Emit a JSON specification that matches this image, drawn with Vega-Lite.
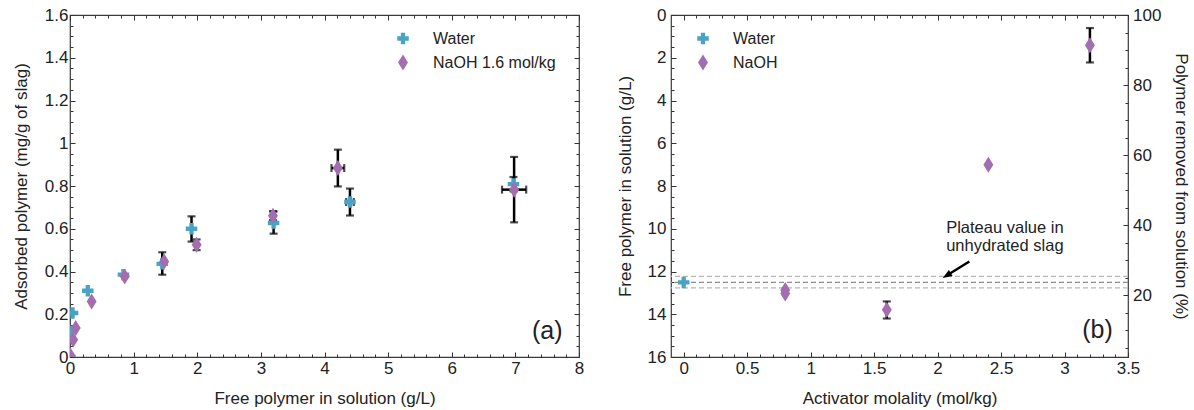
{
  "$schema": "https://vega.github.io/schema/vega-lite/v6.json",
  "padding": {"left": 12, "top": 5, "right": 4, "bottom": 4},
  "background": "white",
  "datasets": {
    "adsorption": [
      {"medium": "Water", "free_gL": 0.0, "adsorbed_mgg": 0.0, "ads_lo": null, "ads_hi": null, "free_lo": null, "free_hi": null},
      {"medium": "Water", "free_gL": 0.01, "adsorbed_mgg": 0.12, "ads_lo": null, "ads_hi": null, "free_lo": null, "free_hi": null},
      {"medium": "Water", "free_gL": 0.04, "adsorbed_mgg": 0.206, "ads_lo": null, "ads_hi": null, "free_lo": null, "free_hi": null},
      {"medium": "Water", "free_gL": 0.28, "adsorbed_mgg": 0.31, "ads_lo": null, "ads_hi": null, "free_lo": null, "free_hi": null},
      {"medium": "Water", "free_gL": 0.84, "adsorbed_mgg": 0.385, "ads_lo": null, "ads_hi": null, "free_lo": null, "free_hi": null},
      {"medium": "Water", "free_gL": 1.45, "adsorbed_mgg": 0.436, "ads_lo": 0.385, "ads_hi": 0.49, "free_lo": null, "free_hi": null},
      {"medium": "Water", "free_gL": 1.91, "adsorbed_mgg": 0.6, "ads_lo": 0.54, "ads_hi": 0.658, "free_lo": null, "free_hi": null},
      {"medium": "Water", "free_gL": 3.2, "adsorbed_mgg": 0.627, "ads_lo": 0.577, "ads_hi": 0.681, "free_lo": null, "free_hi": null},
      {"medium": "Water", "free_gL": 4.4, "adsorbed_mgg": 0.725, "ads_lo": 0.662, "ads_hi": 0.788, "free_lo": 4.34, "free_hi": 4.46},
      {"medium": "Water", "free_gL": 6.97, "adsorbed_mgg": 0.809, "ads_lo": 0.775, "ads_hi": 0.842, "free_lo": null, "free_hi": null},
      {"medium": "NaOH 1.6 mol/kg", "free_gL": 0.0, "adsorbed_mgg": 0.01, "ads_lo": null, "ads_hi": null, "free_lo": null, "free_hi": null},
      {"medium": "NaOH 1.6 mol/kg", "free_gL": 0.05, "adsorbed_mgg": 0.081, "ads_lo": null, "ads_hi": null, "free_lo": null, "free_hi": null},
      {"medium": "NaOH 1.6 mol/kg", "free_gL": 0.09, "adsorbed_mgg": 0.136, "ads_lo": null, "ads_hi": null, "free_lo": null, "free_hi": null},
      {"medium": "NaOH 1.6 mol/kg", "free_gL": 0.34, "adsorbed_mgg": 0.26, "ads_lo": null, "ads_hi": null, "free_lo": null, "free_hi": null},
      {"medium": "NaOH 1.6 mol/kg", "free_gL": 0.86, "adsorbed_mgg": 0.377, "ads_lo": null, "ads_hi": null, "free_lo": null, "free_hi": null},
      {"medium": "NaOH 1.6 mol/kg", "free_gL": 1.48, "adsorbed_mgg": 0.447, "ads_lo": null, "ads_hi": null, "free_lo": null, "free_hi": null},
      {"medium": "NaOH 1.6 mol/kg", "free_gL": 1.99, "adsorbed_mgg": 0.525, "ads_lo": 0.5, "ads_hi": 0.55, "free_lo": null, "free_hi": null},
      {"medium": "NaOH 1.6 mol/kg", "free_gL": 3.19, "adsorbed_mgg": 0.661, "ads_lo": 0.64, "ads_hi": 0.682, "free_lo": null, "free_hi": null},
      {"medium": "NaOH 1.6 mol/kg", "free_gL": 4.21, "adsorbed_mgg": 0.884, "ads_lo": 0.798, "ads_hi": 0.97, "free_lo": 4.11, "free_hi": 4.31},
      {"medium": "NaOH 1.6 mol/kg", "free_gL": 6.98, "adsorbed_mgg": 0.783, "ads_lo": 0.63, "ads_hi": 0.936, "free_lo": 6.79, "free_hi": 7.17}
    ],
    "removal": [
      {"medium": "Water", "molality": 0.0, "free_gL": 12.51, "free_lo": null, "free_hi": null},
      {"medium": "NaOH", "molality": 0.8, "free_gL": 12.86, "free_lo": null, "free_hi": null},
      {"medium": "NaOH", "molality": 0.8, "free_gL": 13.03, "free_lo": null, "free_hi": null},
      {"medium": "NaOH", "molality": 1.6, "free_gL": 13.79, "free_lo": 13.4, "free_hi": 14.2},
      {"medium": "NaOH", "molality": 2.4, "free_gL": 7.0, "free_lo": null, "free_hi": null},
      {"medium": "NaOH", "molality": 3.2, "free_gL": 1.42, "free_lo": 0.61, "free_hi": 2.22}
    ],
    "plateau": [
      {"level": 12.23, "kind": "bound"},
      {"level": 12.51, "kind": "mean"},
      {"level": 12.77, "kind": "bound"}
    ],
    "note": [
      {"molality": 2.53, "free_gL": 9.97, "text": "Plateau value in"},
      {"molality": 2.53, "free_gL": 10.83, "text": "unhydrated slag"}
    ],
    "arrow": [
      {"molality": 2.25, "free_gL": 11.53},
      {"molality": 2.072, "free_gL": 12.19}
    ],
    "arrowhead": [
      {"molality": 2.072, "free_gL": 12.19}
    ],
    "panel_a_label": [{"free_gL": 7.5, "adsorbed_mgg": 0.12, "text": "(a)"}],
    "panel_b_label": [{"molality": 3.26, "free_gL": 14.72, "text": "(b)"}],
    "pct_axis": [{"removed_pct": 2.34}, {"removed_pct": 100}]
  },
  "hconcat": [
    {
      "width": 509,
      "height": 342,
      "layer": [
        {
          "data": {"name": "adsorption"},
          "transform": [{"filter": "datum.ads_lo != null"}],
          "mark": {"type": "errorbar", "color": "black", "rule": {"strokeWidth": 2.5}, "ticks": {"size": 8, "thickness": 2.2, "color": "black"}},
          "encoding": {
            "x": {"field": "free_gL", "type": "quantitative", "scale": {"domain": [0, 8], "nice": false, "zero": false}, "axis": null},
            "y": {"field": "ads_lo", "type": "quantitative", "scale": {"domain": [0, 1.6], "nice": false}, "axis": null},
            "y2": {"field": "ads_hi"}
          }
        },
        {
          "data": {"name": "adsorption"},
          "transform": [{"filter": "datum.free_lo != null"}],
          "mark": {"type": "errorbar", "color": "black", "rule": {"strokeWidth": 2.5}, "ticks": {"size": 8, "thickness": 2.2, "color": "black"}},
          "encoding": {
            "y": {"field": "adsorbed_mgg", "type": "quantitative", "scale": {"domain": [0, 1.6], "nice": false}, "axis": null},
            "x": {"field": "free_lo", "type": "quantitative", "scale": {"domain": [0, 8], "nice": false, "zero": false}, "axis": null},
            "x2": {"field": "free_hi"}
          }
        },
        {
          "data": {"name": "adsorption"},
          "mark": {"type": "point", "filled": true, "opacity": 1, "size": 256, "clip": true, "strokeWidth": 0},
          "encoding": {
            "x": {
              "field": "free_gL", "type": "quantitative",
              "scale": {"domain": [0, 8], "nice": false, "zero": false},
              "axis": {
                "orient": "bottom",
                "title": "Free polymer in solution (g/L)",
                "values": [0,0.2,0.4,0.6,0.8,1,1.2,1.4,1.6,1.8,2,2.2,2.4,2.6,2.8,3,3.2,3.4,3.6,3.8,4,4.2,4.4,4.6,4.8,5,5.2,5.4,5.6,5.8,6,6.2,6.4,6.6,6.8,7,7.2,7.4,7.6,7.8,8],
                "labelExpr": "abs(datum.value - round(datum.value)) < 0.001 ? format(datum.value, '~g') : ''",
                "tickSize": {"condition": {"test": "abs(datum.value - round(datum.value)) < 0.001", "value": -5}, "value": -3},
                "labelOverlap": false, "labelFlush": false, "labelPadding": 8, "titlePadding": 12
              }
            },
            "y": {
              "field": "adsorbed_mgg", "type": "quantitative",
              "scale": {"domain": [0, 1.6], "nice": false},
              "axis": {
                "orient": "left",
                "title": "Adsorbed polymer (mg/g of slag)",
                "values": [0,0.05,0.1,0.15,0.2,0.25,0.3,0.35,0.4,0.45,0.5,0.55,0.6,0.65,0.7,0.75,0.8,0.85,0.9,0.95,1,1.05,1.1,1.15,1.2,1.25,1.3,1.35,1.4,1.45,1.5,1.55,1.6],
                "labelExpr": "abs(datum.value * 5 - round(datum.value * 5)) < 0.001 ? format(datum.value, '~g') : ''",
                "tickSize": {"condition": {"test": "abs(datum.value * 5 - round(datum.value * 5)) < 0.001", "value": -5}, "value": -3},
                "labelOverlap": false, "labelFlush": false, "labelPadding": 7, "titlePadding": 13.5
              }
            },
            "color": {
              "field": "medium", "type": "nominal",
              "scale": {"domain": ["Water", "NaOH 1.6 mol/kg"], "range": ["#4ba3c3", "#a46daf"]},
              "legend": {"orient": "none", "legendX": 325, "legendY": 15.5, "title": null, "labelFontSize": 16, "symbolSize": 256, "labelOffset": 22, "rowPadding": 8, "symbolStrokeWidth": 0}
            },
            "shape": {
              "field": "medium", "type": "nominal",
              "scale": {"domain": ["Water", "NaOH 1.6 mol/kg"], "range": ["M-0.27,-0.72L0.27,-0.72L0.27,-0.27L0.72,-0.27L0.72,0.27L0.27,0.27L0.27,0.72L-0.27,0.72L-0.27,0.27L-0.72,0.27L-0.72,-0.27L-0.27,-0.27Z", "M0,-1L0.62,0L0,1L-0.62,0Z"]},
              "legend": {"orient": "none", "legendX": 325, "legendY": 15.5, "title": null, "labelFontSize": 16, "symbolSize": 256, "labelOffset": 22, "rowPadding": 8, "symbolStrokeWidth": 0}
            }
          }
        },
        {
          "data": {"name": "panel_a_label"},
          "mark": {"type": "text", "fontSize": 25, "align": "center", "baseline": "middle", "color": "#222"},
          "encoding": {
            "x": {"field": "free_gL", "type": "quantitative", "scale": {"domain": [0, 8], "nice": false, "zero": false}, "axis": null},
            "y": {"field": "adsorbed_mgg", "type": "quantitative", "scale": {"domain": [0, 1.6], "nice": false}, "axis": null},
            "text": {"field": "text"}
          }
        },
        {
          "data": {"name": "adsorption"},
          "mark": {"type": "rule", "opacity": 0},
          "encoding": {
            "x": {
              "field": "free_gL", "type": "quantitative",
              "scale": {"domain": [0, 8], "nice": false, "zero": false},
              "axis": {
                "orient": "top", "title": null, "labels": false,
                "values": [0,0.2,0.4,0.6,0.8,1,1.2,1.4,1.6,1.8,2,2.2,2.4,2.6,2.8,3,3.2,3.4,3.6,3.8,4,4.2,4.4,4.6,4.8,5,5.2,5.4,5.6,5.8,6,6.2,6.4,6.6,6.8,7,7.2,7.4,7.6,7.8,8],
                "tickSize": {"condition": {"test": "abs(datum.value - round(datum.value)) < 0.001", "value": -5}, "value": -3}
              }
            }
          }
        },
        {
          "data": {"name": "adsorption"},
          "mark": {"type": "rule", "opacity": 0},
          "encoding": {
            "y": {
              "field": "adsorbed_mgg", "type": "quantitative",
              "scale": {"domain": [0, 1.6], "nice": false},
              "axis": {
                "orient": "right", "title": null, "labels": false,
                "values": [0,0.05,0.1,0.15,0.2,0.25,0.3,0.35,0.4,0.45,0.5,0.55,0.6,0.65,0.7,0.75,0.8,0.85,0.9,0.95,1,1.05,1.1,1.15,1.2,1.25,1.3,1.35,1.4,1.45,1.5,1.55,1.6],
                "tickSize": {"condition": {"test": "abs(datum.value * 5 - round(datum.value * 5)) < 0.001", "value": -5}, "value": -3}
              }
            }
          }
        }
      ],
      "resolve": {"axis": {"x": "independent", "y": "independent"}}
    },
    {
      "width": 457,
      "height": 342,
      "layer": [
        {
          "data": {"name": "plateau"},
          "transform": [{"filter": "datum.kind == 'bound'"}],
          "mark": {"type": "rule", "color": "#b8b8b8", "strokeDash": [5, 3], "strokeWidth": 1.2},
          "encoding": {
            "y": {"field": "level", "type": "quantitative", "scale": {"domain": [0, 16], "nice": false, "reverse": true}, "axis": null}
          }
        },
        {
          "data": {"name": "plateau"},
          "transform": [{"filter": "datum.kind == 'mean'"}],
          "mark": {"type": "rule", "color": "#8c8c8c", "strokeDash": [5, 3], "strokeWidth": 1.2},
          "encoding": {
            "y": {"field": "level", "type": "quantitative", "scale": {"domain": [0, 16], "nice": false, "reverse": true}, "axis": null}
          }
        },
        {
          "data": {"name": "removal"},
          "transform": [{"filter": "datum.free_lo != null"}],
          "mark": {"type": "errorbar", "color": "black", "rule": {"strokeWidth": 2.5}, "ticks": {"size": 8, "thickness": 2.2, "color": "black"}},
          "encoding": {
            "x": {"field": "molality", "type": "quantitative", "scale": {"domain": [-0.1, 3.5], "nice": false, "zero": false}, "axis": null},
            "y": {"field": "free_lo", "type": "quantitative", "scale": {"domain": [0, 16], "nice": false, "reverse": true}, "axis": null},
            "y2": {"field": "free_hi"}
          }
        },
        {
          "data": {"name": "removal"},
          "mark": {"type": "point", "filled": true, "opacity": 1, "size": 256, "strokeWidth": 0},
          "encoding": {
            "x": {
              "field": "molality", "type": "quantitative",
              "scale": {"domain": [-0.1, 3.5], "nice": false, "zero": false},
              "axis": {
                "orient": "bottom",
                "title": "Activator molality (mol/kg)",
                "values": [0,0.1,0.2,0.3,0.4,0.5,0.6,0.7,0.8,0.9,1,1.1,1.2,1.3,1.4,1.5,1.6,1.7,1.8,1.9,2,2.1,2.2,2.3,2.4,2.5,2.6,2.7,2.8,2.9,3,3.1,3.2,3.3,3.4,3.5],
                "labelExpr": "abs(datum.value * 2 - round(datum.value * 2)) < 0.001 ? format(datum.value, '~g') : ''",
                "tickSize": {"condition": {"test": "abs(datum.value * 2 - round(datum.value * 2)) < 0.001", "value": -5}, "value": -3},
                "labelOverlap": false, "labelFlush": false, "labelPadding": 8, "titlePadding": 12
              }
            },
            "y": {
              "field": "free_gL", "type": "quantitative",
              "scale": {"domain": [0, 16], "nice": false, "reverse": true},
              "axis": {
                "orient": "left",
                "title": "Free polymer in solution (g/L)",
                "values": [0,0.5,1,1.5,2,2.5,3,3.5,4,4.5,5,5.5,6,6.5,7,7.5,8,8.5,9,9.5,10,10.5,11,11.5,12,12.5,13,13.5,14,14.5,15,15.5,16],
                "labelExpr": "abs(datum.value / 2 - round(datum.value / 2)) < 0.001 ? format(datum.value, '~g') : ''",
                "tickSize": {"condition": {"test": "abs(datum.value / 2 - round(datum.value / 2)) < 0.001", "value": -5}, "value": -3},
                "labelOverlap": false, "labelFlush": false, "labelPadding": 10, "titlePadding": 13
              }
            },
            "color": {
              "field": "medium", "type": "nominal",
              "scale": {"domain": ["Water", "NaOH"], "range": ["#4ba3c3", "#a46daf"]},
              "legend": {"orient": "none", "legendX": 24, "legendY": 15.5, "title": null, "labelFontSize": 16, "symbolSize": 256, "labelOffset": 22, "rowPadding": 8, "symbolStrokeWidth": 0}
            },
            "shape": {
              "field": "medium", "type": "nominal",
              "scale": {"domain": ["Water", "NaOH"], "range": ["M-0.27,-0.72L0.27,-0.72L0.27,-0.27L0.72,-0.27L0.72,0.27L0.27,0.27L0.27,0.72L-0.27,0.72L-0.27,0.27L-0.72,0.27L-0.72,-0.27L-0.27,-0.27Z", "M0,-1L0.62,0L0,1L-0.62,0Z"]},
              "legend": {"orient": "none", "legendX": 24, "legendY": 15.5, "title": null, "labelFontSize": 16, "symbolSize": 256, "labelOffset": 22, "rowPadding": 8, "symbolStrokeWidth": 0}
            }
          }
        },
        {
          "data": {"name": "note"},
          "mark": {"type": "text", "fontSize": 16.5, "align": "center", "baseline": "middle", "color": "#222"},
          "encoding": {
            "x": {"field": "molality", "type": "quantitative", "scale": {"domain": [-0.1, 3.5], "nice": false, "zero": false}, "axis": null},
            "y": {"field": "free_gL", "type": "quantitative", "scale": {"domain": [0, 16], "nice": false, "reverse": true}, "axis": null},
            "text": {"field": "text"}
          }
        },
        {
          "data": {"name": "arrow"},
          "mark": {"type": "line", "color": "black", "strokeWidth": 2.5},
          "encoding": {
            "x": {"field": "molality", "type": "quantitative", "scale": {"domain": [-0.1, 3.5], "nice": false, "zero": false}, "axis": null},
            "y": {"field": "free_gL", "type": "quantitative", "scale": {"domain": [0, 16], "nice": false, "reverse": true}, "axis": null}
          }
        },
        {
          "data": {"name": "arrowhead"},
          "mark": {"type": "point", "shape": "M0,-1L0.75,1L-0.75,1Z", "size": 90, "angle": 238, "filled": true, "color": "black", "opacity": 1, "strokeWidth": 0},
          "encoding": {
            "x": {"field": "molality", "type": "quantitative", "scale": {"domain": [-0.1, 3.5], "nice": false, "zero": false}, "axis": null},
            "y": {"field": "free_gL", "type": "quantitative", "scale": {"domain": [0, 16], "nice": false, "reverse": true}, "axis": null}
          }
        },
        {
          "data": {"name": "panel_b_label"},
          "mark": {"type": "text", "fontSize": 25, "align": "center", "baseline": "middle", "color": "#222"},
          "encoding": {
            "x": {"field": "molality", "type": "quantitative", "scale": {"domain": [-0.1, 3.5], "nice": false, "zero": false}, "axis": null},
            "y": {"field": "free_gL", "type": "quantitative", "scale": {"domain": [0, 16], "nice": false, "reverse": true}, "axis": null},
            "text": {"field": "text"}
          }
        },
        {
          "data": {"name": "removal"},
          "mark": {"type": "rule", "opacity": 0},
          "encoding": {
            "x": {
              "field": "molality", "type": "quantitative",
              "scale": {"domain": [-0.1, 3.5], "nice": false, "zero": false},
              "axis": {
                "orient": "top", "title": null, "labels": false,
                "values": [0,0.1,0.2,0.3,0.4,0.5,0.6,0.7,0.8,0.9,1,1.1,1.2,1.3,1.4,1.5,1.6,1.7,1.8,1.9,2,2.1,2.2,2.3,2.4,2.5,2.6,2.7,2.8,2.9,3,3.1,3.2,3.3,3.4,3.5],
                "tickSize": {"condition": {"test": "abs(datum.value * 2 - round(datum.value * 2)) < 0.001", "value": -5}, "value": -3}
              }
            }
          }
        },
        {
          "data": {"name": "pct_axis"},
          "mark": {"type": "rule", "opacity": 0},
          "encoding": {
            "y": {
              "field": "removed_pct", "type": "quantitative",
              "scale": {"domain": [2.34, 100], "nice": false, "zero": false},
              "axis": {
                "orient": "right",
                "title": "Polymer removed from solution (%)",
                "values": [5,10,15,20,25,30,35,40,45,50,55,60,65,70,75,80,85,90,95,100],
                "labelExpr": "datum.value % 20 == 0 ? format(datum.value, '~g') : ''",
                "tickSize": {"condition": {"test": "datum.value % 20 == 0", "value": -5}, "value": -3},
                "labelOverlap": false, "labelFlush": false, "labelPadding": 9.5, "titlePadding": 11
              }
            }
          }
        }
      ],
      "resolve": {"scale": {"y": "independent"}, "axis": {"x": "independent", "y": "independent"}}
    }
  ],
  "spacing": 30,
  "resolve": {"scale": {"color": "independent", "shape": "independent"}, "legend": {"color": "independent", "shape": "independent"}},
  "config": {
    "font": "Liberation Sans",
    "view": {"stroke": "#3a3a3a", "strokeWidth": 1.2},
    "axis": {
      "domain": false, "grid": false,
      "labelFont": "Liberation Sans", "titleFont": "Liberation Sans",
      "labelFontSize": 17, "titleFontSize": 17, "titleFontWeight": "normal",
      "labelColor": "#222", "titleColor": "#222",
      "tickColor": "#333", "tickWidth": 1
    },
    "legend": {"labelFont": "Liberation Sans", "labelColor": "#222"},
    "text": {"font": "Liberation Sans"}
  }
}
